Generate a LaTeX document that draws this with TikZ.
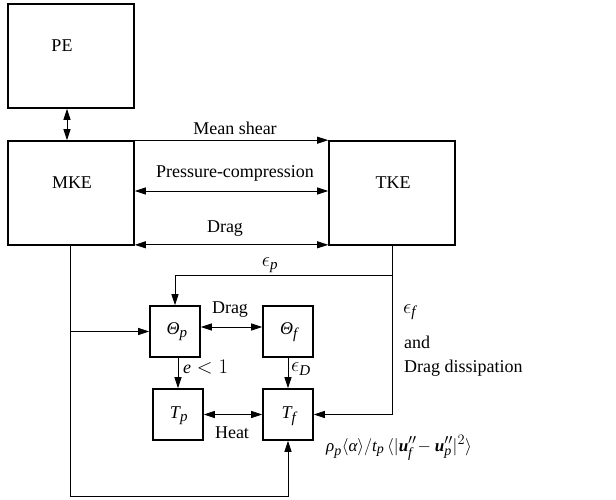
\documentclass[tikz,border=0pt]{standalone}
\usepackage{amsmath}
\usepackage{fontspec}
\setmainfont{Liberation Serif}
\usetikzlibrary{arrows.meta,calc}
\DeclareMathSizes{18}{20}{15}{12}
\DeclareMathSizes{17}{18.5}{14}{11}
\newcommand\mi[1]{\text{\itshape #1}}
\newcommand\mbi[1]{\text{\bfseries\itshape #1}}
\begin{document}
\begin{tikzpicture}[x=1pt,y=-1pt,
  font=\fontsize{18}{20}\selectfont,
  bigbox/.style={draw,line width=1.6pt,minimum width=126pt,minimum height=104pt,inner sep=0pt},
  smallbox/.style={draw,line width=1.6pt,minimum width=50pt,minimum height=51pt,inner sep=0pt},
  conn/.style={line width=0.8pt,-{Triangle[length=11pt,width=7pt]}},
  dconn/.style={line width=0.8pt,{Triangle[length=11pt,width=7pt]}-{Triangle[length=11pt,width=7pt]}},
  lab/.style={inner sep=0pt}]
\useasboundingbox (0,0) rectangle (616,500);
% boxes
\node[bigbox] (PE) at (71,56) {};
\node[bigbox] (MKE) at (71,193) {};
\node[bigbox] (TKE) at (392,193) {};
\node[smallbox] (Thp) at (175,331.5) {};
\node[smallbox] (Thf) at (288,331.5) {};
\node[smallbox] (Tp) at (178,414.5) {};
\node[smallbox] (Tf) at (288,414.5) {};
% box texts
\node[lab] (tPE) at (62,46) {PE};
\node[lab] (tMKE) at (72,183) {MKE};
\node[lab] (tTKE) at (393,183) {TKE};
\node[lab] (tThp) at (177,332) {$\mi{Θ}_{\mi{p}}$};
\node[lab] (tThf) at (289,332) {$\mi{Θ}_{\mi{f}}$};
\node[lab] (tTp) at (179,416) {$\mi{T}_{\mi{p}}$};
\node[lab] (tTf) at (289,416) {$\mi{T}_{\mi{f}}$};
% helper coordinates
\coordinate (c1) at (70,496);
\coordinate (c2) at (392,275);
% connectors
\draw[dconn] ([xshift=-4pt]PE.south) -- ([xshift=-4pt]MKE.north);
\draw[conn] (MKE.north east) -- (TKE.north west);
\draw[dconn] ([yshift=2pt]MKE.east) -- ([yshift=2pt]TKE.west);
\draw[dconn] ([yshift=1pt]MKE.south east) -- ([yshift=1pt]TKE.south west);
\draw[conn] ([xshift=-1pt]MKE.south) |- (Tf.south |- c1) -- (Tf.south);
\draw[conn] (Thp.west -| c1) -- (Thp.west);
\draw[conn] (TKE.south) |- (Tf.east);
\draw[conn] (c2) -| (Thp.north);
\draw[dconn] ([yshift=4.5pt]Thp.east) -- ([yshift=4.5pt]Thf.west);
\draw[conn] (Tp.north |- Thp.south) -- (Tp.north);
\draw[conn] (Thf.south) -- (Tf.north);
\draw[dconn] (Tp.east) -- (Tf.west);
% labels
\node[lab] (lms) at (235,128) {Mean shear};
\node[lab] (lpc) at (235,173) {Pressure-compression};
\node[lab] (ldr) at (225,229) {Drag};
\node[lab] (lep) at (270,265) {$\epsilon_{\mi{p}}$};
\node[lab] (ldr2) at (230,310) {Drag};
\node[lab,anchor=west] (le1) at (183,367) {$\mi{e}<1$};
\node[lab,anchor=west] (leD) at (291,369) {$\epsilon_{\mi{D}}$};
\node[lab] (lheat) at (232,433) {Heat};
\node[lab,anchor=west] (lef) at (403,312) {$\epsilon_{\mi{f}}$};
\node[lab,anchor=west] (land) at (404,342) {and};
\node[lab,anchor=west] (ldd) at (404,368) {Drag dissipation};
\node[lab,font=\fontsize{17}{19}\selectfont] (lform) at (399,448) {$\mi{ρ}_{\mi{p}}\langle\mi{α}\rangle/\mi{t}_{\mi{p}}\,\langle|\mbi{u}_{\mi{f}}''\!-\mbi{u}_{\mi{p}}''|^2\rangle$};
\end{tikzpicture}
\end{document}
